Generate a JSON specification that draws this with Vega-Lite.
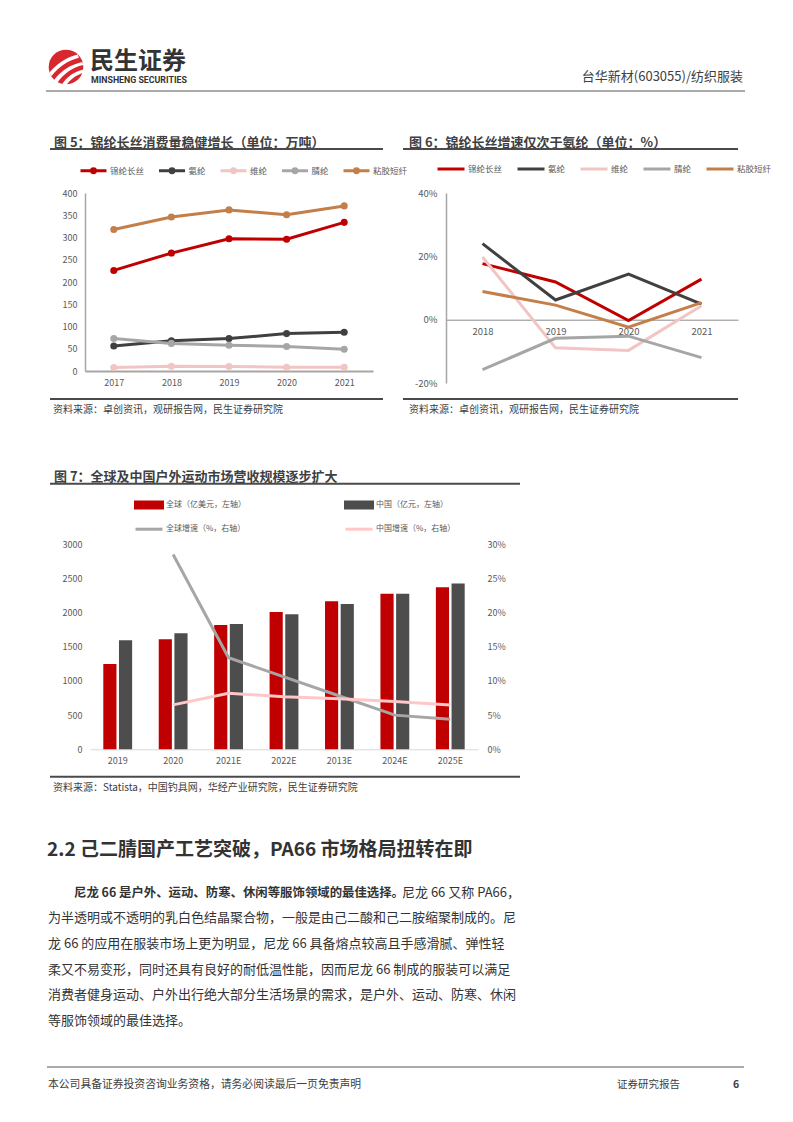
{
  "$schema": "https://vega.github.io/schema/vega-lite/v6.json",
  "width": 793,
  "height": 1122,
  "autosize": {"type": "none"},
  "padding": 0,
  "background": "#ffffff",
  "config": {
    "view": {"stroke": null},
    "font": "Noto Sans CJK SC",
    "axis": {"labelFont": "Noto Sans CJK SC"},
    "legend": {"labelFont": "Noto Sans CJK SC"}
  },
  "datasets": {
    "f5": [
      {"year": "2017", "series": "锦纶长丝", "value": 226}, {"year": "2018", "series": "锦纶长丝", "value": 265}, {"year": "2019", "series": "锦纶长丝", "value": 297}, {"year": "2020", "series": "锦纶长丝", "value": 296}, {"year": "2021", "series": "锦纶长丝", "value": 334},
      {"year": "2017", "series": "氨纶", "value": 56}, {"year": "2018", "series": "氨纶", "value": 68}, {"year": "2019", "series": "氨纶", "value": 73}, {"year": "2020", "series": "氨纶", "value": 84}, {"year": "2021", "series": "氨纶", "value": 87},
      {"year": "2017", "series": "维纶", "value": 8}, {"year": "2018", "series": "维纶", "value": 10.5}, {"year": "2019", "series": "维纶", "value": 10}, {"year": "2020", "series": "维纶", "value": 8.5}, {"year": "2021", "series": "维纶", "value": 8.5},
      {"year": "2017", "series": "腈纶", "value": 73}, {"year": "2018", "series": "腈纶", "value": 62}, {"year": "2019", "series": "腈纶", "value": 58}, {"year": "2020", "series": "腈纶", "value": 55}, {"year": "2021", "series": "腈纶", "value": 49},
      {"year": "2017", "series": "粘胶短纤", "value": 318}, {"year": "2018", "series": "粘胶短纤", "value": 346}, {"year": "2019", "series": "粘胶短纤", "value": 362}, {"year": "2020", "series": "粘胶短纤", "value": 351}, {"year": "2021", "series": "粘胶短纤", "value": 371}
    ],
    "f6": [
      {"year": "2018", "series": "锦纶长丝", "value": 17.7}, {"year": "2019", "series": "锦纶长丝", "value": 11.9}, {"year": "2020", "series": "锦纶长丝", "value": -0.3}, {"year": "2021", "series": "锦纶长丝", "value": 12.8},
      {"year": "2018", "series": "氨纶", "value": 24.0}, {"year": "2019", "series": "氨纶", "value": 6.2}, {"year": "2020", "series": "氨纶", "value": 14.4}, {"year": "2021", "series": "氨纶", "value": 4.9},
      {"year": "2018", "series": "维纶", "value": 19.8}, {"year": "2019", "series": "维纶", "value": -8.9}, {"year": "2020", "series": "维纶", "value": -9.7}, {"year": "2021", "series": "维纶", "value": 4.4},
      {"year": "2018", "series": "腈纶", "value": -15.8}, {"year": "2019", "series": "腈纶", "value": -5.9}, {"year": "2020", "series": "腈纶", "value": -5.2}, {"year": "2021", "series": "腈纶", "value": -12.0},
      {"year": "2018", "series": "粘胶短纤", "value": 8.9}, {"year": "2019", "series": "粘胶短纤", "value": 4.6}, {"year": "2020", "series": "粘胶短纤", "value": -2.4}, {"year": "2021", "series": "粘胶短纤", "value": 5.4}
    ],
    "f7b": [
      {"year": "2019", "series": "全球（亿美元，左轴）", "value": 1250}, {"year": "2020", "series": "全球（亿美元，左轴）", "value": 1610}, {"year": "2021E", "series": "全球（亿美元，左轴）", "value": 1820}, {"year": "2022E", "series": "全球（亿美元，左轴）", "value": 2010}, {"year": "2013E", "series": "全球（亿美元，左轴）", "value": 2165}, {"year": "2024E", "series": "全球（亿美元，左轴）", "value": 2275}, {"year": "2025E", "series": "全球（亿美元，左轴）", "value": 2370},
      {"year": "2019", "series": "中国（亿元，左轴）", "value": 1595}, {"year": "2020", "series": "中国（亿元，左轴）", "value": 1700}, {"year": "2021E", "series": "中国（亿元，左轴）", "value": 1835}, {"year": "2022E", "series": "中国（亿元，左轴）", "value": 1978}, {"year": "2013E", "series": "中国（亿元，左轴）", "value": 2125}, {"year": "2024E", "series": "中国（亿元，左轴）", "value": 2275}, {"year": "2025E", "series": "中国（亿元，左轴）", "value": 2425}
    ],
    "f7l": [
      {"year": "2020", "series": "全球增速（%，右轴）", "value": 28.5}, {"year": "2021E", "series": "全球增速（%，右轴）", "value": 13.4}, {"year": "2022E", "series": "全球增速（%，右轴）", "value": 10.6}, {"year": "2013E", "series": "全球增速（%，右轴）", "value": 7.8}, {"year": "2024E", "series": "全球增速（%，右轴）", "value": 5.0}, {"year": "2025E", "series": "全球增速（%，右轴）", "value": 4.4},
      {"year": "2020", "series": "中国增速（%，右轴）", "value": 6.5}, {"year": "2021E", "series": "中国增速（%，右轴）", "value": 8.2}, {"year": "2022E", "series": "中国增速（%，右轴）", "value": 7.7}, {"year": "2013E", "series": "中国增速（%，右轴）", "value": 7.4}, {"year": "2024E", "series": "中国增速（%，右轴）", "value": 7.0}, {"year": "2025E", "series": "中国增速（%，右轴）", "value": 6.5}
    ],
    "para": [
      {"line": 1, "seg": "bold", "text": "尼龙 66 是户外、运动、防寒、休闲等服饰领域的最佳选择。"},
      {"line": 1, "seg": "tail", "text": "尼龙 66 又称 PA66，"},
      {"line": 2, "seg": "body", "text": "为半透明或不透明的乳白色结晶聚合物，一般是由己二酸和己二胺缩聚制成的。尼"},
      {"line": 3, "seg": "body", "text": "龙 66 的应用在服装市场上更为明显，尼龙 66 具备熔点较高且手感滑腻、弹性轻"},
      {"line": 4, "seg": "body", "text": "柔又不易变形，同时还具有良好的耐低温性能，因而尼龙 66 制成的服装可以满足"},
      {"line": 5, "seg": "body", "text": "消费者健身运动、户外出行绝大部分生活场景的需求，是户外、运动、防寒、休闲"},
      {"line": 6, "seg": "body", "text": "等服饰领域的最佳选择。"}
    ]
  },
  "resolve": {
    "scale": {"x": "independent", "y": "independent", "color": "independent", "xOffset": "independent"},
    "axis": {"x": "independent", "y": "independent"},
    "legend": {"color": "independent"}
  },
  "layer": [
    {
      "data": {"values": [{}]},
      "layer": [
        {"mark": {"type": "point", "filled": true, "size": 1200, "color": "#d7282f", "opacity": 1},
         "encoding": {"x": {"datum": 66, "type": "quantitative", "scale": {"domain": [0, 793], "range": [0, 793], "nice": false, "zero": false}, "axis": null},
                      "y": {"datum": 67, "type": "quantitative", "scale": {"domain": [0, 1122], "range": [0, 1122], "nice": false, "zero": false}, "axis": null}}},
        {"mark": {"type": "point", "filled": true, "size": 1521, "color": "#ffffff", "opacity": 1, "shape": "M-0.86,0.3C-0.5,-0.15,0,-0.5,0.6,-0.64L0.66,-0.48C0.1,-0.33,-0.38,-0.02,-0.74,0.46Z M-0.62,0.68C-0.28,0.2,0.2,-0.12,0.84,-0.26L0.88,-0.1C0.32,0.03,-0.1,0.33,-0.44,0.8Z M-0.22,0.92C0.04,0.5,0.42,0.24,0.95,0.12L0.93,0.3C0.52,0.4,0.24,0.62,0,0.96Z"},
         "encoding": {"x": {"datum": 66, "type": "quantitative", "scale": {"domain": [0, 793], "range": [0, 793], "nice": false, "zero": false}, "axis": null},
                      "y": {"datum": 67, "type": "quantitative", "scale": {"domain": [0, 1122], "range": [0, 1122], "nice": false, "zero": false}, "axis": null}}},
        {"mark": {"type": "text", "align": "left", "baseline": "middle", "fontSize": 24, "fontWeight": "bold", "color": "#333333", "text": "民生证券"},
         "encoding": {"x": {"datum": 90}, "y": {"datum": 62}}},
        {"mark": {"type": "text", "align": "left", "baseline": "middle", "fontSize": 8.8, "fontWeight": "bold", "font": "Roboto", "color": "#333333", "text": "MINSHENG SECURITIES"},
         "encoding": {"x": {"datum": 91}, "y": {"datum": 79.5}}},
        {"mark": {"type": "text", "align": "right", "baseline": "middle", "fontSize": 13, "color": "#404040", "text": "台华新材(603055)/纺织服装"},
         "encoding": {"x": {"datum": 743}, "y": {"datum": 76.5}}},
        {"mark": {"type": "rule", "color": "#8c8c8c", "strokeWidth": 1.5},
         "encoding": {"x": {"datum": 46}, "x2": {"datum": 745}, "y": {"datum": 91}}},
        {"mark": {"type": "text", "align": "left", "baseline": "middle", "fontSize": 13, "fontWeight": "bold", "color": "#404040", "text": "图 5：锦纶长丝消费量稳健增长（单位：万吨）"},
         "encoding": {"x": {"datum": 54}, "y": {"datum": 143}}},
        {"mark": {"type": "text", "align": "left", "baseline": "middle", "fontSize": 13, "fontWeight": "bold", "color": "#404040", "text": "图 6：锦纶长丝增速仅次于氨纶（单位：%）"},
         "encoding": {"x": {"datum": 409}, "y": {"datum": 143}}},
        {"mark": {"type": "text", "align": "left", "baseline": "middle", "fontSize": 13, "fontWeight": "bold", "color": "#404040", "text": "图 7：全球及中国户外运动市场营收规模逐步扩大"},
         "encoding": {"x": {"datum": 54}, "y": {"datum": 476.7}}},
        {"mark": {"type": "rule", "color": "#4a4a4a", "strokeWidth": 2},
         "encoding": {"x": {"datum": 50}, "x2": {"datum": 383}, "y": {"datum": 149}}},
        {"mark": {"type": "rule", "color": "#4a4a4a", "strokeWidth": 2},
         "encoding": {"x": {"datum": 403}, "x2": {"datum": 738}, "y": {"datum": 149}}},
        {"mark": {"type": "rule", "color": "#4a4a4a", "strokeWidth": 2},
         "encoding": {"x": {"datum": 50}, "x2": {"datum": 520}, "y": {"datum": 483.7}}},
        {"mark": {"type": "rule", "color": "#4a4a4a", "strokeWidth": 2},
         "encoding": {"x": {"datum": 50}, "x2": {"datum": 383}, "y": {"datum": 399}}},
        {"mark": {"type": "rule", "color": "#4a4a4a", "strokeWidth": 2},
         "encoding": {"x": {"datum": 403}, "x2": {"datum": 738}, "y": {"datum": 399}}},
        {"mark": {"type": "rule", "color": "#4a4a4a", "strokeWidth": 2},
         "encoding": {"x": {"datum": 50}, "x2": {"datum": 520}, "y": {"datum": 776.7}}},
        {"mark": {"type": "text", "align": "left", "baseline": "middle", "fontSize": 10, "color": "#404040", "text": "资料来源：卓创资讯，观研报告网，民生证券研究院"},
         "encoding": {"x": {"datum": 53}, "y": {"datum": 410}}},
        {"mark": {"type": "text", "align": "left", "baseline": "middle", "fontSize": 10, "color": "#404040", "text": "资料来源：卓创资讯，观研报告网，民生证券研究院"},
         "encoding": {"x": {"datum": 409}, "y": {"datum": 410}}},
        {"mark": {"type": "text", "align": "left", "baseline": "middle", "fontSize": 10, "color": "#404040", "text": "资料来源：Statista，中国钓具网，华经产业研究院，民生证券研究院"},
         "encoding": {"x": {"datum": 53}, "y": {"datum": 787.5}}},
        {"mark": {"type": "text", "align": "left", "baseline": "middle", "fontSize": 19, "fontWeight": "bold", "color": "#333333", "text": "2.2 己二腈国产工艺突破，PA66 市场格局扭转在即"},
         "encoding": {"x": {"datum": 47}, "y": {"datum": 849.5}}},
        {"mark": {"type": "rule", "color": "#8c8c8c", "strokeWidth": 1.5},
         "encoding": {"x": {"datum": 47}, "x2": {"datum": 744}, "y": {"datum": 1067}}},
        {"mark": {"type": "text", "align": "left", "baseline": "middle", "fontSize": 10.8, "color": "#404040", "text": "本公司具备证券投资咨询业务资格，请务必阅读最后一页免责声明"},
         "encoding": {"x": {"datum": 48}, "y": {"datum": 1085}}},
        {"mark": {"type": "text", "align": "left", "baseline": "middle", "fontSize": 10.5, "color": "#404040", "text": "证券研究报告"},
         "encoding": {"x": {"datum": 617}, "y": {"datum": 1085}}},
        {"mark": {"type": "text", "align": "left", "baseline": "middle", "fontSize": 10.5, "fontWeight": "bold", "color": "#404040", "text": "6"},
         "encoding": {"x": {"datum": 733}, "y": {"datum": 1085}}}
      ]
    },
    {
      "data": {"name": "para"},
      "encoding": {
        "y": {"field": "line", "type": "ordinal", "scale": {"type": "point", "domain": [1, 2, 3, 4, 5, 6], "range": [880, 1033.6], "padding": 0.5}, "axis": null},
        "text": {"field": "text"}
      },
      "layer": [
        {"transform": [{"filter": "datum.seg === 'bold'"}],
         "mark": {"type": "text", "align": "left", "baseline": "middle", "fontSize": 12.4, "fontWeight": "bold", "color": "#333333", "dx": 26},
         "encoding": {"x": {"datum": 0, "type": "quantitative", "scale": {"domain": [0, 1], "range": [48, 520], "nice": false, "zero": false}, "axis": null}}},
        {"transform": [{"filter": "datum.seg === 'tail'"}],
         "mark": {"type": "text", "align": "right", "baseline": "middle", "fontSize": 13, "color": "#333333"},
         "encoding": {"x": {"datum": 1, "type": "quantitative", "scale": {"domain": [0, 1], "range": [48, 520], "nice": false, "zero": false}, "axis": null}}},
        {"transform": [{"filter": "datum.seg === 'body'"}],
         "mark": {"type": "text", "align": "left", "baseline": "middle", "fontSize": 13, "color": "#333333"},
         "encoding": {"x": {"datum": 0, "type": "quantitative", "scale": {"domain": [0, 1], "range": [48, 520], "nice": false, "zero": false}, "axis": null}}}
      ]
    },
    {
      "data": {"name": "f5"},
      "mark": {"type": "line", "strokeWidth": 3, "point": {"filled": true, "size": 50}},
      "encoding": {
        "x": {"field": "year", "type": "ordinal", "scale": {"type": "point", "range": [85, 373], "padding": 0.5},
              "axis": {"orient": "bottom", "offset": -751, "title": null, "labelAngle": 0, "domainColor": "#a6a6a6", "domainWidth": 2, "ticks": false, "tickSize": 0, "labelPadding": 7, "labelFontSize": 9, "labelColor": "#595959", "grid": false}},
        "y": {"field": "value", "type": "quantitative", "scale": {"domain": [0, 400], "range": [371, 193], "nice": false},
              "axis": {"orient": "left", "offset": -85, "title": null, "values": [0, 50, 100, 150, 200, 250, 300, 350, 400], "grid": false, "domain": true, "domainColor": "#a6a6a6", "domainWidth": 1.5, "ticks": false, "tickSize": 0, "labelPadding": 8, "labelFontSize": 9, "labelColor": "#595959"}},
        "color": {
          "field": "series", "type": "nominal",
          "scale": {"domain": ["锦纶长丝", "氨纶", "维纶", "腈纶", "粘胶短纤"], "range": ["#c00000", "#404040", "#f2c4c4", "#a6a6a6", "#c47e48"]},
          "legend": {
            "orient": "none", "legendX": 79, "legendY": 156, "direction": "horizontal", "columns": 5, "title": null, "padding": 0,
            "symbolType": "M-1,0H1M0.15,0A0.15,0.15,0,1,1,-0.15,0A0.15,0.15,0,1,1,0.15,0",
            "symbolSize": 676, "symbolStrokeWidth": 3, "labelFontSize": 8.5, "labelColor": "#595959", "labelOffset": 2, "columnPadding": 7.5,
            "encode": {"symbols": {"update": {"fill": {"signal": "datum.value === '锦纶长丝' ? '#c00000' : datum.value === '氨纶' ? '#404040' : datum.value === '维纶' ? '#f2c4c4' : datum.value === '腈纶' ? '#a6a6a6' : '#c47e48'"}, "opacity": {"value": 1}}}}
          }
        }
      }
    },
    {
      "data": {"name": "f6"},
      "mark": {"type": "line", "strokeWidth": 3},
      "encoding": {
        "x": {"field": "year", "type": "ordinal", "scale": {"type": "point", "range": [446, 738], "padding": 0.5},
              "axis": {"orient": "bottom", "offset": -802.3, "title": null, "labelAngle": 0, "domainColor": "#8c8c8c", "domainWidth": 1, "ticks": false, "tickSize": 0, "labelPadding": 7, "labelFontSize": 9.5, "labelColor": "#595959", "grid": false}},
        "y": {"field": "value", "type": "quantitative", "scale": {"domain": [-20, 40], "range": [383, 193], "nice": false},
              "axis": {"orient": "left", "offset": -446, "title": null, "values": [-20, 0, 20, 40], "labelExpr": "datum.value + '%'", "grid": false, "domain": true, "domainColor": "#a6a6a6", "domainWidth": 1.5, "ticks": false, "tickSize": 0, "labelPadding": 9, "labelFontSize": 9.5, "labelColor": "#595959"}},
        "color": {
          "field": "series", "type": "nominal",
          "scale": {"domain": ["锦纶长丝", "氨纶", "维纶", "腈纶", "粘胶短纤"], "range": ["#c00000", "#404040", "#f2c4c4", "#a6a6a6", "#c47e48"]},
          "legend": {
            "orient": "none", "legendX": 436, "legendY": 154, "direction": "horizontal", "columns": 5, "title": null, "padding": 0,
            "symbolType": "M-1,0H1", "symbolSize": 729, "symbolStrokeWidth": 3, "labelFontSize": 8.5, "labelColor": "#595959", "labelOffset": 2, "columnPadding": 8
          }
        }
      }
    },
    {
      "resolve": {"scale": {"y": "independent"}, "axis": {"y": "independent"}},
      "layer": [
        {
          "data": {"name": "f7b"},
          "mark": {"type": "bar"},
          "encoding": {
            "x": {"field": "year", "type": "nominal", "sort": null, "scale": {"domain": ["2019", "2020", "2021E", "2022E", "2013E", "2024E", "2025E"], "range": [90, 478], "paddingInner": 0.48, "paddingOuter": 0.24},
                  "axis": {"orient": "bottom", "offset": -372.7, "title": null, "labelAngle": 0, "domainColor": "#d9d9d9", "domainWidth": 1, "ticks": false, "tickSize": 0, "labelPadding": 7, "labelFontSize": 9, "labelColor": "#595959", "grid": false}},
            "xOffset": {"field": "series", "type": "nominal", "scale": {"domain": ["全球（亿美元，左轴）", "中国（亿元，左轴）"], "paddingInner": 0.16, "paddingOuter": 0}},
            "y": {"field": "value", "type": "quantitative", "scale": {"domain": [0, 3000], "range": [749.3, 544.3], "nice": false},
                  "axis": {"orient": "left", "offset": -90, "title": null, "format": "d", "values": [0, 500, 1000, 1500, 2000, 2500, 3000], "grid": false, "domain": false, "ticks": false, "tickSize": 0, "labelPadding": 8, "labelFontSize": 9, "labelColor": "#595959"}},
            "color": {
              "field": "series", "type": "nominal",
              "scale": {"domain": ["全球（亿美元，左轴）", "中国（亿元，左轴）", "全球增速（%，右轴）", "中国增速（%，右轴）"], "range": ["#c00000", "#4d4d4d", "#a6a6a6", "#ffc7c7"]},
              "legend": {
                "orient": "none", "legendX": 134, "legendY": 498.3, "direction": "horizontal", "columns": 2, "title": null, "padding": 0,
                "symbolSize": 100, "labelFontSize": 8, "labelColor": "#595959", "labelOffset": 19, "columnPadding": 93, "rowPadding": 8.4,
                "encode": {"symbols": {"update": {
                  "shape": {"signal": "indexof(datum.value, '增速') >= 0 ? 'M-1,0H4.4' : 'M-1,-0.6H4.4V0.6H-1Z'"},
                  "fill": {"signal": "datum.value === '全球（亿美元，左轴）' ? '#c00000' : datum.value === '中国（亿元，左轴）' ? '#4d4d4d' : 'transparent'"},
                  "stroke": {"signal": "datum.value === '全球增速（%，右轴）' ? '#a6a6a6' : datum.value === '中国增速（%，右轴）' ? '#ffc7c7' : 'transparent'"},
                  "strokeWidth": {"value": 3},
                  "opacity": {"value": 1}
                }}}
              }
            }
          }
        },
        {
          "data": {"name": "f7l"},
          "mark": {"type": "line", "strokeWidth": 3},
          "encoding": {
            "x": {"field": "year", "type": "nominal", "sort": null, "scale": {"domain": ["2019", "2020", "2021E", "2022E", "2013E", "2024E", "2025E"], "range": [90, 478], "paddingInner": 0.48, "paddingOuter": 0.24}},
            "y": {"field": "value", "type": "quantitative", "scale": {"domain": [0, 30], "range": [749.3, 544.3], "nice": false},
                  "axis": {"orient": "right", "offset": -315, "title": null, "values": [0, 5, 10, 15, 20, 25, 30], "labelExpr": "datum.value + '%'", "grid": false, "domain": false, "ticks": false, "tickSize": 0, "labelPadding": 9, "labelFontSize": 9, "labelColor": "#595959"}},
            "color": {
              "field": "series", "type": "nominal",
              "scale": {"domain": ["全球（亿美元，左轴）", "中国（亿元，左轴）", "全球增速（%，右轴）", "中国增速（%，右轴）"], "range": ["#c00000", "#4d4d4d", "#a6a6a6", "#ffc7c7"]}
            }
          }
        }
      ]
    }
  ]
}
